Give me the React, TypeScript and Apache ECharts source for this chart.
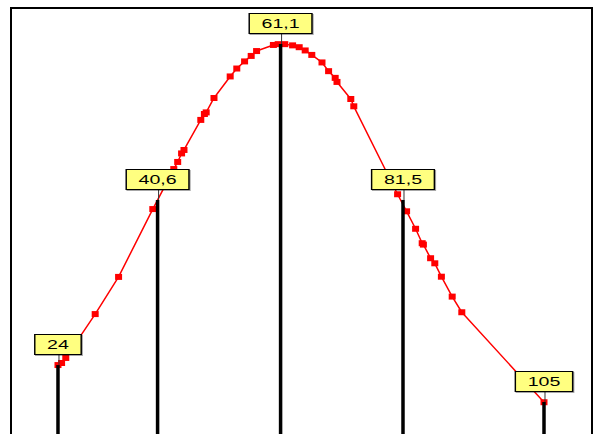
import React, { useEffect, useRef } from 'react';
import * as echarts from 'echarts';

// Sample points along the fitted curve (x value, density)
const sampleX = [24.0, 24.6, 25.3, 30.2, 34.1, 39.8, 43.3, 43.95, 44.6, 45.0, 47.8, 48.4, 48.7, 50.0, 52.7, 53.8, 55.1, 56.2, 57.1, 59.9, 60.7, 61.8, 63.1, 64.2, 65.2, 66.3, 68.0, 69.1, 70.2, 70.5, 72.8, 73.3, 80.6, 82.1, 83.6, 84.7, 84.9, 86.1, 86.8, 87.9, 89.7, 91.3, 105.0];
const sampleY = [0.00369, 0.00379, 0.00404, 0.0062, 0.00803, 0.01137, 0.01334, 0.01369, 0.01411, 0.01428, 0.01576, 0.01605, 0.01613, 0.01684, 0.0179, 0.01829, 0.01864, 0.01891, 0.01915, 0.01945, 0.01949, 0.01949, 0.01943, 0.01934, 0.01918, 0.01896, 0.01859, 0.01816, 0.01783, 0.01763, 0.01679, 0.01643, 0.0121, 0.01126, 0.0104, 0.00969, 0.00962, 0.00895, 0.0087, 0.00804, 0.00706, 0.00629, 0.00186];

// Reference vertical lines (min, -1 sd, mean, +1 sd, max)
const refX = [24, 40.6, 61.1, 81.5, 105];
const refY = [0.00369, 0.01182, 0.0195, 0.01182, 0.00187];
const refLabels = ['24', '40,6', '61,1', '81,5', '105'];

export default function App() {
  const ref = useRef<HTMLDivElement>(null);
  useEffect(() => {
    const chart = echarts.init(ref.current!, null, { renderer: 'svg' });
    const curve = sampleX.map((x, i) => [x, sampleY[i]]);
    const refs = refX.map((x, i) => [x, refY[i]]);
    chart.setOption({
      animation: false,
      grid: {
        left: 11, top: 8, width: 581, height: 432,
        show: true, borderColor: '#000', borderWidth: 2, backgroundColor: 'transparent',
      },
      xAxis: { type: 'value', min: 16.17, max: 113, show: false },
      yAxis: { type: 'value', min: 0, max: 0.02127, show: false },
      series: [
        {
          type: 'line',
          data: curve,
          symbol: 'rect',
          symbolSize: [7, 6],
          showSymbol: true,
          lineStyle: { color: '#ff0000', width: 1.5 },
          itemStyle: { color: '#ff0000' },
          z: 2,
        },
        {
          type: 'custom',
          data: refs,
          z: 3,
          clip: false,
          renderItem: (params: any, api: any) => {
            const x = api.value(0);
            const y = api.value(1);
            const top = api.coord([x, y]);
            const base = api.coord([x, 0]);
            return {
              type: 'group',
              children: [
                { type: 'line', shape: { x1: top[0], y1: base[1], x2: top[0], y2: top[1] }, style: { stroke: '#000', lineWidth: 3.5 } },
                { type: 'line', shape: { x1: top[0] + 1, y1: top[1] - 11, x2: top[0] + 1, y2: top[1] }, style: { stroke: '#333', lineWidth: 1 } },
                {
                  type: 'text', x: top[0], y: top[1] - 11, scaleX: 1.45,
                  style: {
                    text: refLabels[params.dataIndex], fill: '#000', fontSize: 13.5,
                    fontFamily: 'Liberation Sans, Arial, sans-serif',
                    align: 'center', verticalAlign: 'bottom',
                    backgroundColor: '#ffff80', borderColor: '#000', borderWidth: 1,
                    padding: [3, 8, 2, 8],
                    shadowColor: 'rgba(0,0,0,0.35)', shadowOffsetX: 1, shadowOffsetY: 1, shadowBlur: 1,
                  },
                },
              ],
            };
          },
        },
      ],
    });
    return () => chart.dispose();
  }, []);
  return (
    <div style={{ position: 'fixed', left: 0, top: 0, width: 596, height: 434, overflow: 'hidden', background: '#fff' }}>
      <div ref={ref} style={{ width: 596, height: 450 }} />
    </div>
  );
}
